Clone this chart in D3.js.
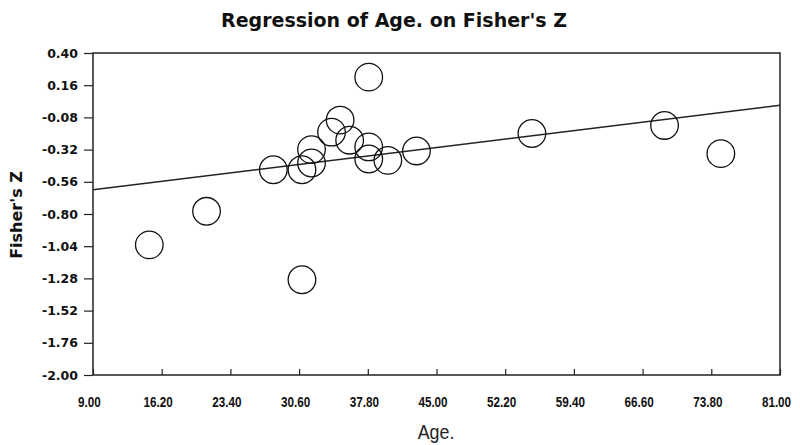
<!DOCTYPE html>
<html>
<head>
<meta charset="utf-8">
<script src="https://cdn.jsdelivr.net/npm/d3@7"></script>
<style>
  body { margin: 0; background: #fff; }
</style>
</head>
<body>
<svg id="chart" width="800" height="445"></svg>
<script>
// data
const ages = [14.9, 20.9, 27.9, 30.9, 31.9, 31.9, 34.0, 34.9, 35.9, 37.9, 37.9, 37.9, 39.9, 42.9, 30.9, 55.0, 68.9, 74.8];
const fisherZ = [-1.03, -0.78, -0.47, -0.47, -0.42, -0.32, -0.19, -0.10, -0.25, 0.22, -0.30, -0.39, -0.40, -0.33, -1.29, -0.20, -0.14, -0.35];
const fitAge = [9, 81];
const fitZ = [-0.62, 0.01];
const xTicks = [9.0, 16.2, 23.4, 30.6, 37.8, 45.0, 52.2, 59.4, 66.6, 73.8, 81.0];
const yTicks = [0.40, 0.16, -0.08, -0.32, -0.56, -0.80, -1.04, -1.28, -1.52, -1.76, -2.00];

const svg = d3.select("#chart");
const plotL = 93, plotR = 780, plotT = 53, plotB = 375;

const x = d3.scaleLinear().domain([9, 81]).range([plotL, plotR]);
const y = d3.scaleLinear().domain([-2, 0.4]).range([plotB, plotT]);

const fmt = d => d.toFixed(2); // plain hyphen for negatives, like the original

// frame
svg.append("rect")
  .attr("x", plotL).attr("y", plotT)
  .attr("width", plotR - plotL).attr("height", plotB - plotT)
  .attr("fill", "none").attr("stroke", "#222").attr("stroke-width", 1.5);

const yAxis = svg.append("g")
  .attr("transform", `translate(${plotL},0)`)
  .call(d3.axisLeft(y).tickValues(yTicks).tickFormat(fmt).tickSize(9).tickPadding(6));
yAxis.select(".domain").remove();
yAxis.selectAll("line").attr("stroke", "#222").attr("stroke-width", 1.2);
yAxis.selectAll("text")
  .attr("font-family", "DejaVu Sans, Verdana, sans-serif")
  .attr("font-weight", "bold")
  .attr("font-size", "12.5px")
  .attr("fill", "#111");

const xAxis = svg.append("g")
  .attr("transform", `translate(0,${plotB})`)
  .call(d3.axisBottom(x).tickValues(xTicks).tickFormat(fmt).tickSize(-6).tickPadding(21));
xAxis.select(".domain").remove();
xAxis.selectAll("line").attr("stroke", "#222").attr("stroke-width", 1.2);
xAxis.selectAll("text")
  .attr("font-family", "Liberation Sans, Arial, sans-serif")
  .attr("font-weight", "bold")
  .attr("font-size", "15px")
  .attr("fill", "#111")
  .attr("transform", "translate(-4,0) scale(0.78,1)");

// regression line
const line = d3.line().x(d => x(d[0])).y(d => y(d[1]));
svg.append("path")
  .datum(d3.zip(fitAge, fitZ))
  .attr("d", line)
  .attr("fill", "none")
  .attr("stroke", "#222")
  .attr("stroke-width", 1.5);

// points
svg.append("g")
  .selectAll("circle")
  .data(d3.zip(ages, fisherZ))
  .join("circle")
  .attr("cx", d => x(d[0]))
  .attr("cy", d => y(d[1]))
  .attr("r", 13.8)
  .attr("fill", "none")
  .attr("stroke", "#111")
  .attr("stroke-width", 1.3);

// titles
svg.append("text")
  .attr("x", 394).attr("y", 27)
  .attr("text-anchor", "middle")
  .attr("font-family", "DejaVu Sans, Verdana, sans-serif")
  .attr("font-weight", "bold")
  .attr("font-size", "19px")
  .attr("fill", "#111")
  .text("Regression of Age. on Fisher's Z");

svg.append("text")
  .attr("transform", "translate(22,215) rotate(-90)")
  .attr("text-anchor", "middle")
  .attr("font-family", "DejaVu Sans, Verdana, sans-serif")
  .attr("font-weight", "bold")
  .attr("font-size", "16px")
  .attr("fill", "#111")
  .text("Fisher's Z");

svg.append("text")
  .attr("transform", "translate(436,439) scale(0.85,1)")
  .attr("text-anchor", "middle")
  .attr("font-family", "Liberation Sans, Arial, sans-serif")
  .attr("font-size", "21px")
  .attr("fill", "#222")
  .text("Age.");
</script>
</body>
</html>
